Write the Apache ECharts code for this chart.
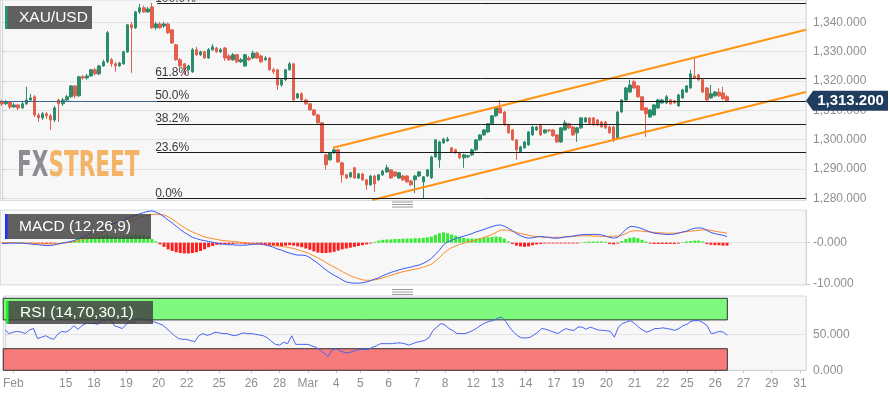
<!DOCTYPE html>
<html><head><meta charset="utf-8">
<script src="https://cdn.jsdelivr.net/npm/echarts@6/dist/echarts.min.js"></script>
<style>html,body{margin:0;padding:0;background:#fff}#c{width:890px;height:400px}</style>
</head><body><div id="c"></div><script>
// ---- DATA ----
// candles: [open, close, low, high]
const ohlc = [
[1312.9,1312.2,1311.5,1313.5],[1312.2,1312.9,1311.8,1313.5],[1312.9,1311.1,1310.4,1313.2],[1311.1,1311.8,1310.8,1312.5],[1311.8,1310.8,1310.1,1312.2],
[1310.8,1312.2,1310.4,1312.9],[1312.2,1313.5,1311.8,1318.0],[1313.5,1314.2,1312.9,1315.6],[1314.6,1308.4,1307.7,1315.2],[1308.4,1307.4,1306.0,1309.1],
[1307.4,1308.8,1306.7,1309.4],[1308.8,1308.1,1307.0,1309.4],[1308.1,1306.7,1303.3,1308.8],[1306.7,1310.8,1306.0,1311.5],[1313.5,1312.2,1306.0,1313.9],
[1312.2,1313.5,1311.5,1314.2],[1313.5,1314.6,1313.2,1315.2],[1314.6,1318.3,1314.2,1318.6],[1318.3,1314.9,1314.2,1318.6],[1314.9,1321.4,1314.6,1321.7],
[1321.4,1321.0,1320.4,1322.0],[1321.0,1321.7,1320.4,1322.4],[1321.7,1323.8,1321.4,1324.1],[1323.8,1322.4,1322.0,1324.5],[1322.4,1325.1,1322.0,1325.5],
[1325.1,1326.5,1324.8,1327.2],[1326.5,1336.4,1326.1,1337.0],[1327.2,1325.8,1324.8,1327.8],[1325.8,1325.1,1323.1,1326.5],[1325.1,1326.1,1324.8,1326.5],
[1325.8,1329.9,1325.5,1330.3],[1329.9,1339.1,1329.5,1339.4],[1339.1,1338.1,1322.7,1340.1],[1338.1,1343.5,1337.7,1343.9],[1343.5,1344.9,1342.8,1346.2],
[1344.9,1343.5,1343.2,1345.6],[1343.5,1344.5,1343.2,1345.2],[1345.2,1338.1,1337.7,1346.6],[1338.1,1339.4,1337.4,1340.1],[1339.4,1338.1,1337.7,1340.1],
[1338.7,1339.4,1338.1,1340.1],[1339.4,1336.4,1336.0,1339.8],[1337.4,1332.9,1332.6,1337.7],[1332.3,1327.2,1326.8,1332.6],[1327.2,1325.1,1324.8,1327.8],
[1325.8,1323.8,1322.0,1326.1],[1323.8,1325.1,1323.5,1325.5],[1323.1,1330.6,1322.7,1331.2],[1330.6,1328.9,1328.5,1331.6],[1328.9,1329.9,1328.5,1330.3],
[1329.9,1327.8,1327.5,1330.3],[1327.8,1330.6,1327.5,1331.2],[1330.6,1331.6,1330.3,1332.6],[1331.2,1329.9,1329.5,1331.6],[1329.9,1330.6,1329.5,1331.2],
[1331.2,1327.8,1326.8,1331.6],[1328.5,1327.2,1326.8,1329.2],[1327.2,1328.9,1326.8,1329.5],[1328.9,1326.5,1326.1,1329.2],[1326.5,1327.2,1326.1,1327.8],
[1325.1,1328.9,1324.8,1329.2],[1327.8,1327.2,1326.8,1328.5],[1327.8,1329.5,1327.5,1330.3],[1329.5,1327.8,1327.5,1329.9],[1328.5,1326.5,1326.1,1328.9],
[1327.2,1327.8,1326.8,1328.5],[1327.8,1323.8,1323.5,1328.1],[1323.8,1323.1,1322.4,1324.5],[1323.8,1318.6,1316.9,1324.1],[1318.6,1320.4,1318.0,1320.7],
[1320.4,1323.8,1320.0,1324.1],[1323.8,1325.8,1323.5,1326.5],[1325.8,1313.5,1313.2,1326.1],[1314.2,1315.6,1313.9,1315.9],[1315.6,1313.5,1313.2,1316.2],
[1313.5,1312.2,1311.8,1313.9],[1312.2,1310.1,1309.8,1312.5],[1310.1,1308.4,1308.1,1310.4],[1308.4,1305.7,1305.4,1308.8],[1305.7,1295.8,1295.5,1306.0],
[1294.8,1291.4,1289.7,1295.2],[1293.1,1295.5,1292.8,1295.8],[1295.5,1296.5,1295.2,1297.2],[1296.5,1292.4,1292.1,1296.9],[1292.1,1288.0,1285.3,1292.4],
[1288.0,1286.9,1286.6,1288.3],[1287.3,1288.7,1287.0,1289.0],[1290.4,1286.9,1286.6,1290.7],[1286.9,1288.3,1286.6,1288.7],[1288.3,1286.3,1285.9,1288.7],
[1286.3,1284.6,1282.9,1286.6],[1284.6,1287.6,1284.2,1288.0],[1287.6,1284.9,1282.2,1288.0],[1286.3,1288.0,1285.9,1288.3],[1288.0,1289.3,1287.6,1289.7],
[1289.0,1290.4,1288.7,1291.4],[1289.7,1286.9,1286.6,1290.0],[1289.0,1287.6,1287.3,1289.3],[1286.9,1288.7,1286.6,1289.0],[1287.6,1286.3,1285.9,1288.0],
[1287.6,1285.6,1285.3,1288.0],[1285.9,1284.6,1284.2,1286.3],[1286.3,1287.6,1281.8,1288.0],[1287.6,1289.0,1287.3,1289.3],[1285.6,1287.3,1280.1,1287.6],
[1287.6,1289.7,1287.3,1290.0],[1287.0,1294.1,1286.6,1294.5],[1294.1,1299.9,1293.8,1300.2],[1293.1,1299.2,1290.4,1299.6],[1298.9,1300.2,1298.5,1300.6],
[1299.6,1300.2,1299.2,1300.9],[1297.2,1295.8,1295.5,1297.5],[1296.5,1295.5,1295.2,1296.9],[1295.5,1293.8,1293.4,1295.8],[1293.8,1294.8,1290.4,1295.2],
[1294.1,1294.5,1293.8,1294.8],[1294.8,1296.5,1294.5,1296.9],[1296.5,1299.9,1296.2,1300.2],[1299.9,1301.6,1299.6,1301.9],[1301.6,1303.3,1301.3,1303.6],
[1302.6,1305.4,1302.3,1305.7],[1305.4,1308.1,1305.0,1308.4],[1308.1,1310.8,1307.7,1311.1],[1310.8,1309.1,1308.8,1313.5],[1309.4,1305.0,1304.7,1309.8],
[1305.0,1302.3,1302.0,1305.4],[1303.3,1299.9,1299.6,1303.6],[1299.9,1296.5,1293.1,1300.2],[1295.8,1297.5,1295.5,1297.9],[1297.2,1299.2,1296.9,1299.6],
[1298.2,1302.6,1297.9,1302.9],[1301.6,1304.3,1301.3,1304.7],[1303.3,1304.3,1303.0,1304.7],[1305.0,1301.6,1301.3,1305.4],[1302.3,1303.3,1302.0,1303.6],
[1303.3,1303.0,1302.6,1303.6],[1303.3,1301.3,1301.0,1303.6],[1301.6,1299.2,1298.9,1301.9],[1299.2,1304.0,1298.9,1304.3],[1303.3,1305.7,1303.0,1306.7],
[1305.4,1304.0,1303.6,1305.7],[1304.3,1301.6,1301.3,1304.7],[1302.3,1304.0,1299.2,1304.3],[1304.0,1307.4,1303.6,1307.7],[1306.0,1307.4,1305.7,1307.7],
[1307.4,1305.4,1305.0,1307.7],[1307.4,1305.0,1304.7,1307.7],[1306.7,1305.0,1304.7,1307.0],[1306.0,1304.3,1304.0,1306.4],[1306.0,1304.0,1303.6,1306.4],
[1304.3,1302.3,1302.0,1304.7],[1304.3,1299.9,1299.2,1304.7],[1300.6,1309.4,1300.2,1309.8],[1309.4,1313.5,1309.1,1313.9],[1313.5,1317.6,1313.2,1318.0],
[1316.2,1318.6,1315.9,1320.4],[1319.7,1317.6,1317.3,1320.4],[1318.3,1314.6,1314.2,1318.6],[1314.6,1310.1,1309.8,1314.9],[1310.8,1308.8,1300.9,1311.1],
[1307.7,1310.1,1307.4,1310.4],[1308.4,1311.8,1308.1,1312.2],[1310.8,1313.5,1310.4,1313.9],[1312.5,1313.5,1312.2,1313.9],[1312.5,1314.6,1312.2,1315.2],
[1313.5,1312.2,1311.8,1313.9],[1313.2,1312.5,1312.2,1313.5],[1311.5,1315.2,1311.1,1315.6],[1314.2,1316.9,1313.9,1317.3],[1316.2,1318.3,1315.9,1318.6],
[1317.6,1322.4,1317.3,1323.8],[1321.7,1321.0,1320.7,1327.8],[1322.0,1320.4,1320.0,1322.4],[1320.4,1316.2,1315.9,1320.7],[1317.6,1313.5,1313.2,1317.9],
[1314.2,1315.6,1313.9,1318.6],[1314.9,1316.2,1314.6,1316.6],[1316.2,1314.9,1314.6,1317.6],[1315.9,1313.9,1313.5,1318.0],[1314.6,1313.2,1312.9,1315.2]
];
const macdLine = [
-0.2,-0.2,-0.1,-0.1,-0.1,-0.1,-0.2,-0.3,-0.4,-0.5,
-0.6,-0.7,-0.7,-0.5,-0.3,-0.1,0.1,0.3,0.6,1.0,
1.4,1.8,2.3,2.7,3.1,3.5,4.0,4.4,4.8,5.1,
5.5,5.9,6.3,6.6,7.0,7.3,7.6,7.7,7.4,6.9,
6.3,5.5,4.8,4.0,3.2,2.5,1.9,1.3,1.0,0.7,
0.5,0.3,0.1,-0.1,-0.3,-0.4,-0.5,-0.5,-0.6,-0.6,
-0.6,-0.5,-0.4,-0.3,-0.3,-0.5,-0.8,-1.1,-1.5,-1.8,
-2.2,-2.5,-2.8,-3.0,-3.0,-3.1,-3.6,-4.3,-5.0,-5.8,
-6.6,-7.3,-7.9,-8.4,-9.0,-9.5,-9.7,-9.8,-9.8,-9.7,
-9.5,-9.2,-8.8,-8.5,-8.0,-7.6,-7.2,-6.9,-6.6,-6.3,
-6.1,-5.9,-5.6,-5.4,-5.0,-4.5,-3.8,-2.8,-1.8,-0.5,
0.2,0.6,1.0,1.3,1.6,1.9,2.2,2.6,2.9,3.2,
3.6,3.9,4.2,4.3,4.0,3.5,2.9,2.2,1.7,1.3,
1.1,1.2,1.4,1.5,1.4,1.3,1.1,1.1,1.2,1.4,
1.5,1.6,1.8,1.9,2.0,2.0,2.0,2.0,1.9,1.6,
1.3,1.1,1.3,2.2,3.2,3.9,3.9,3.7,3.4,3.0,
2.6,2.3,2.2,2.1,2.0,2.0,2.1,2.3,2.6,2.8,
3.2,3.5,3.6,3.5,3.0,2.5,2.2,2.0,1.8,1.5
];
const signalLine = [
0.0,0.0,0.0,0.0,-0.1,-0.1,-0.1,-0.1,-0.2,-0.2,
-0.3,-0.3,-0.3,-0.3,-0.2,-0.1,0.0,0.1,0.3,0.5,
0.8,1.1,1.4,1.8,2.2,2.6,2.9,3.3,3.7,4.1,
4.6,5.0,5.4,5.8,6.1,6.4,6.6,6.8,6.9,6.9,
6.7,6.3,5.7,5.0,4.3,3.7,3.1,2.6,2.2,1.8,
1.4,1.2,1.0,0.8,0.6,0.5,0.4,0.3,0.2,0.1,
0.0,-0.1,-0.2,-0.3,-0.4,-0.5,-0.6,-0.7,-0.8,-0.9,
-1.0,-1.2,-1.4,-1.7,-2.0,-2.3,-2.7,-3.2,-3.7,-4.2,
-4.8,-5.4,-5.9,-6.4,-7.0,-7.5,-8.0,-8.4,-8.7,-9.0,
-9.1,-9.1,-9.0,-8.8,-8.5,-8.2,-7.9,-7.6,-7.3,-7.0,
-6.8,-6.6,-6.4,-6.2,-5.9,-5.6,-5.2,-4.5,-3.6,-2.6,
-1.8,-1.2,-0.8,-0.4,-0.1,0.2,0.4,0.6,0.9,1.3,
1.6,2.0,2.5,3.0,3.1,3.0,2.8,2.5,2.2,2.0,
1.8,1.6,1.5,1.4,1.3,1.3,1.3,1.3,1.3,1.4,
1.4,1.5,1.6,1.7,1.7,1.7,1.6,1.6,1.5,1.5,
1.5,1.6,1.6,1.8,2.2,2.7,2.9,2.9,2.8,2.7,
2.6,2.5,2.4,2.4,2.3,2.3,2.3,2.4,2.5,2.7,
2.8,2.9,3.0,3.1,3.1,3.0,2.8,2.6,2.5,2.3
];
const macdHist = [
-0.1,0.1,0.1,0.1,0.1,0.1,0.0,-0.1,-0.2,-0.2,
-0.2,-0.3,-0.3,-0.2,0.0,0.1,0.2,0.4,0.6,0.9,
1.0,1.1,1.3,1.3,1.5,1.7,1.9,1.6,1.5,1.5,
1.5,1.6,1.8,1.9,1.9,1.8,1.5,0.9,0.3,-0.4,
-1.0,-1.6,-2.0,-2.3,-2.5,-2.6,-2.6,-2.5,-2.3,-2.0,
-1.6,-1.1,-0.8,-0.5,-0.4,-0.3,-0.3,-0.3,-0.2,-0.2,
-0.3,-0.3,-0.3,-0.4,-0.5,-0.6,-0.7,-0.8,-0.8,-0.8,
-0.7,-0.6,-0.7,-0.9,-1.1,-1.4,-1.7,-2.1,-2.4,-2.5,
-2.5,-2.4,-2.2,-1.9,-1.6,-1.4,-1.2,-1.0,-0.8,-0.6,
-0.4,-0.2,0.2,0.5,0.7,0.8,0.8,0.9,0.9,1.0,
1.0,1.0,1.1,1.1,1.2,1.3,1.5,1.9,2.3,2.5,
2.3,2.0,1.7,1.4,1.2,1.0,1.0,1.0,1.1,1.2,
1.3,1.4,1.5,1.4,1.0,0.3,-0.3,-0.7,-0.9,-1.0,
-0.9,-0.6,-0.4,-0.3,-0.2,-0.2,-0.2,-0.2,-0.2,-0.2,
-0.2,-0.2,-0.2,0.1,0.2,0.3,0.3,0.3,0.3,0.2,
-0.3,-0.4,-0.2,0.4,0.9,1.2,1.3,1.1,0.7,0.3,
-0.2,-0.3,-0.3,-0.3,-0.3,-0.3,-0.3,-0.2,0.1,0.3,
0.4,0.5,0.5,0.3,-0.3,-0.5,-0.6,-0.6,-0.7,-0.7
];
const rsiLine = [
55.5,51,53,54,53,51,56,58,44,46,
48,45,43,50,54,53,56,62,57,62,
65,65,65,64,69,70,72,62,60,58,
64,67,66,72,72,70,69,67,65,63,
58,53,48,44,43,43,41,40,48,51,
48.6,50,53,52,51,51,49,48,50,52,
51,51,50,49,48,45,40,36,35,39,
37,48,36,36,36,36,34,32,28,24,
19,28,30,27,25,24,26,28,29,29,
29,32,34,37,37,37,37,38,38,37,
35,37,39,40,41.7,45,55,60,65,63,
58,55,51,51,51,53,55.5,59,63,66,
68,69,72,74,68,60,53,48,45,45,
45.5,49,53,58,57,55,53,51,55,58,
56,55.5,60,60,57,60,58,56,55.5,55,
54,46,60,65,67,69,65,60,56,53,
55,58,58,59,58,57,55.5,58,62,64,
68,69,69,66,62,51,52,54,53,48.6
];
const tickLabels = ['Feb','15','18','19','20','22','25','26','28','Mar','4','5','6','7','8','12','13','14','17','19','20','21','22','25','26','27','29','31'];
const tickSlots  = [2,15,22,30,38,45,53,61,68,75,82,88,95,102,109,116,122,129,136,142,149,156,163,169,176,183,190,197];
const slotCount = 199;
const priceTicks = [1280,1290,1300,1310,1320,1330,1340];
const macdTicks = [-10,0];
const rsiTicks = [0,50];
const fibRange = [1280.0, 1346.3];           // swing low, swing high
const fibPcts = [0, 23.6, 38.2, 50, 61.8, 100];
const fibStartSlot = 38.3;
const upperChannel = [[81.7,1297.2],[198.5,1337.4]];
const lowerChannel = [[91.4,1279.4],[198.5,1316.2]];
const rsiBands = [[70,100,'#7ef97e'],[0,30,'#f87b7b']];
const lastClose = 1313.2;

// ---- CHART ----
const FONT = '"Liberation Sans", Arial, sans-serif';
const labelColor = '#8f8f8f';
const cats = Array.from({length: slotCount}, () => '');
tickSlots.forEach((s, k) => { cats[s] = tickLabels[k]; });
const marSlot = tickSlots[tickLabels.indexOf('Mar')];
const fmt3 = v => v.toLocaleString('en-US', {minimumFractionDigits: 3, maximumFractionDigits: 3});

function catAxis(gridIndex, bottom) {
  return {
    type: 'category', gridIndex, data: cats, boundaryGap: true,
    axisLine: {show: bottom, lineStyle: {color: '#cdd5de'}},
    axisTick: {show: bottom, length: 3, alignWithLabel: true, interval: (i, v) => v !== '', lineStyle: {color: '#c3cbd3'}},
    axisLabel: {show: bottom, interval: (i, v) => v !== '', color: labelColor, fontSize: 12, fontFamily: FONT, margin: 7},
    splitLine: {show: true, interval: (i) => i === marSlot, lineStyle: {color: '#dedede'}}
  };
}
function valAxis(gridIndex, min, max, ticks, fmt, split) {
  return {
    type: 'value', gridIndex, position: 'right', min, max, scale: true,
    axisLine: {show: true, lineStyle: {color: '#cdd5de'}},
    axisTick: {show: true, length: 4, customValues: ticks, lineStyle: {color: '#c3cbd3'}},
    axisLabel: {customValues: ticks, formatter: fmt, color: labelColor, fontSize: 12, fontFamily: FONT, margin: 7},
    splitLine: {show: split, lineStyle: {color: '#e4e4e4'}}
  };
}

const gridStyle = {show: true, backgroundColor: '#f7f7f7', borderColor: '#d5dce4', borderWidth: 1, containLabel: false};
const option = {
  animation: false,
  textStyle: {fontFamily: FONT},
  grid: [
    Object.assign({left: 0, width: 806, top: 0, height: 200.5}, gridStyle),
    Object.assign({left: 0, width: 806, top: 210, height: 75}, gridStyle),
    Object.assign({left: 0, width: 806, top: 296, height: 74.3}, gridStyle)
  ],
  xAxis: [
    catAxis(0, false), catAxis(1, false), catAxis(2, true),
    {type: 'value', gridIndex: 0, min: -0.5, max: slotCount - 0.5, show: false},
    {type: 'value', gridIndex: 2, min: -0.5, max: slotCount - 0.5, show: false}
  ],
  yAxis: [
    valAxis(0, 1279.25, 1347.56, priceTicks, fmt3, true),
    valAxis(1, -10.24, 7.92, macdTicks, v => (v === 0 ? '-0.000' : fmt3(v)), true),
    valAxis(2, 0, 103.2, rsiTicks, fmt3, true)
  ],
  series: [
    {
      type: 'candlestick', xAxisIndex: 0, yAxisIndex: 0, data: ohlc, barWidth: 3,
      itemStyle: {color: '#2b8c6c', color0: '#e2604d', borderColor: '#2b8c6c', borderColor0: '#e2604d', borderWidth: 1},
      markLine: {silent: true, symbol: ['none', 'none'], label: {show: false},
        lineStyle: {color: '#3e6590', width: 1, type: 'solid'}, data: [{yAxis: lastClose}]}
    },
    {
      type: 'line', xAxisIndex: 3, yAxisIndex: 0, data: upperChannel, symbol: 'none',
      lineStyle: {color: '#ff9313', width: 2}, z: 4,
      markLine: {
        silent: true, symbol: ['none', 'none'],
        lineStyle: {color: '#1b1b1b', width: 1, type: 'solid'},
        label: {show: true, position: 'insideStartTop', formatter: p => p.name, color: '#3a3a3a', fontSize: 12, fontFamily: FONT, distance: [-2, -1]},
        data: fibPcts.map(p => {
          const v = fibRange[0] + p / 100 * (fibRange[1] - fibRange[0]);
          return [{coord: [fibStartSlot, v], name: p.toFixed(1) + '%'}, {coord: [slotCount - 0.5, v]}];
        })
      }
    },
    {type: 'line', xAxisIndex: 3, yAxisIndex: 0, data: lowerChannel, symbol: 'none', lineStyle: {color: '#ff9313', width: 2}, z: 4},
    {
      type: 'bar', xAxisIndex: 1, yAxisIndex: 1, barWidth: 3,
      data: macdHist.map(v => ({value: v, itemStyle: {color: v >= 0 ? '#33ec33' : '#ff1e1e'}}))
    },
    {type: 'line', xAxisIndex: 1, yAxisIndex: 1, data: signalLine, symbol: 'none', lineStyle: {color: '#ff8a25', width: 1}},
    {type: 'line', xAxisIndex: 1, yAxisIndex: 1, data: macdLine, symbol: 'none', lineStyle: {color: '#3b57f5', width: 1}},
    {
      type: 'line', xAxisIndex: 4, yAxisIndex: 2, data: [], symbol: 'none', z: 1, silent: true,
      markArea: {
        silent: true,
        data: rsiBands.map(b => [
          {coord: [-0.5, b[0]], itemStyle: {color: b[2], borderColor: '#333', borderWidth: 1}},
          {coord: [ohlc.length - 1, b[1]]}
        ])
      }
    },
    {type: 'line', xAxisIndex: 2, yAxisIndex: 2, data: rsiLine, symbol: 'none', lineStyle: {color: '#4763ee', width: 1}, z: 5}
  ]
};

const chart = echarts.init(document.getElementById('c'), null, {renderer: 'canvas'});
chart.setOption(option);

function handle(id, y) {
  return {type: 'group', id, children: [0, 2.5, 5].map(d => ({
    type: 'line', z: 100, shape: {x1: 392, y1: y + d, x2: 413, y2: y + d}, style: {stroke: '#9a9a9a', lineWidth: 1}
  }))};
}
function labelBox(id, x, y, w, h, stripe, text) {
  return {type: 'group', id, children: [
    {type: 'rect', z: 100, shape: {x, y, width: w, height: h}, style: {fill: 'rgba(62,62,62,0.82)'}},
    {type: 'rect', z: 101, shape: {x, y, width: 2.5, height: h}, style: {fill: stripe}},
    {type: 'text', z: 101, x: x + 14, y: y + h / 2, style: {text, fill: '#fff', font: '15.5px ' + FONT, verticalAlign: 'middle'}}
  ]};
}
const tagY = chart.convertToPixel({yAxisIndex: 0}, lastClose);
const tagX = chart.convertToPixel({xAxisIndex: 3}, slotCount - 0.5);
chart.setOption({graphic: [
  {type: 'text', id: 'wm', x: 17, y: 149, scaleX: 0.6, z: 0, silent: true,
   style: {text: '{a|FX}{b|STREET}', verticalAlign: 'top',
     rich: {a: {font: 'bold 36px "DejaVu Sans"', fill: '#8c8c92'}, b: {font: 'bold 36px "DejaVu Sans"', fill: '#f3b468'}}}},
  labelBox('lb1', 5, 6, 87, 23, '#1f9c74', 'XAU/USD'),
  labelBox('lb2', 5, 214, 146, 25, '#1a33ff', 'MACD (12,26,9)'),
  labelBox('lb3', 6, 301, 147, 23, '#22f022', 'RSI (14,70,30,1)'),
  handle('h1', 202),
  handle('h2', 289.5),
  {type: 'group', id: 'tag', children: [
    {type: 'polygon', z: 100, shape: {points: [[tagX, tagY], [tagX + 7, tagY - 10], [tagX + 82, tagY - 10], [tagX + 82, tagY + 10], [tagX + 7, tagY + 10]]},
     style: {fill: '#1f3d5e'}},
    {type: 'text', z: 101, x: tagX + 44.5, y: tagY + 0.5, style: {text: fmt3(lastClose), fill: '#fff', font: 'bold 15px ' + FONT, align: 'center', verticalAlign: 'middle'}}
  ]}
]});
</script></body></html>
